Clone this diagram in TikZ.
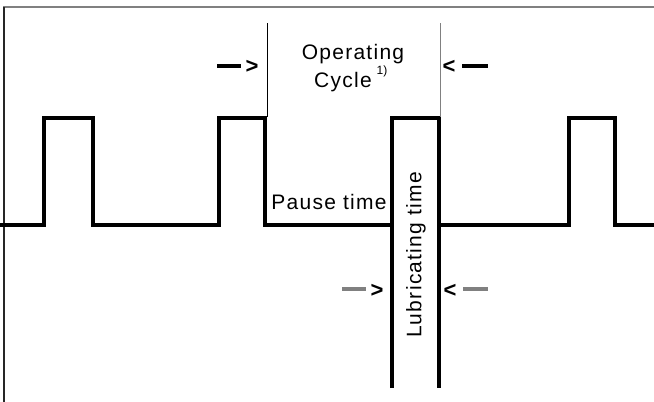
\documentclass[tikz,border=0pt]{standalone}
\usepackage{fontspec}
\setmainfont{Liberation Sans}[LetterSpace=6]
\newfontfamily\supfont{Liberation Sans}
\begin{document}
\begin{tikzpicture}[x=1pt,y=-1pt]
\tikzset{
  wave/.style={line width=3.5pt, line join=miter},
  thinline/.style={line width=1pt},
  dashmark/.style={line width=3.5pt},
  lbl/.style={font=\fontsize{21}{23}\selectfont, inner sep=0pt},
  tick/.style={font=\fontsize{22}{24}\selectfont\bfseries, inner sep=0pt}
}
\useasboundingbox (0,0) rectangle (654,402);
% frame
\draw[gray, line width=1.2pt] (3,7) -- (654,7);
\draw[black!85, line width=1.2pt] (4,7) -- (4,402);
% waveform
\draw[wave] (0,225) -- (44,225) -- (44,118) -- (93,118) -- (93,225) -- (219,225) -- (219,118) -- (265,118) -- (265,225) -- (392,225);
\draw[wave] (392,388) -- (392,118) -- (439,118) -- (439,388);
\draw[wave] (439,225) -- (569,225) -- (569,118) -- (615,118) -- (615,225) -- (654,225);
% operating cycle markers
\coordinate (ocLtop) at (267,23);
\coordinate (ocLbot) at (267,117);
\coordinate (ocRtop) at (440,23);
\coordinate (ocRbot) at (440,117);
\draw[thinline] (ocLtop) -- (ocLbot);
\draw[thinline, gray] (ocRtop) -- (ocRbot);
\coordinate (d1a) at (217,66); \coordinate (d1b) at (241,66);
\coordinate (d2a) at (462,66); \coordinate (d2b) at (488,66);
\draw[dashmark] (d1a) -- (d1b);
\draw[dashmark] (d2a) -- (d2b);
\node[tick] (g1) at (252,67) {>};
\node[tick] (l1) at (449,67) {<};
\node[lbl] (op) at (353,54) {Operating};
\node[lbl] (cy) at (343,82) {Cycle};
\node[inner sep=0pt, font=\supfont\fontsize{12}{13}\selectfont] (sup) at (382,71) {1)};
% pause time
\node[lbl] (pt) at (329,202) {Pause time};
% lubricating time
\node[lbl, rotate=90] (lt) at (416,255) {Lubricating time};
\coordinate (d3a) at (342,289); \coordinate (d3b) at (366,289);
\coordinate (d4a) at (463,289); \coordinate (d4b) at (488,289);
\draw[dashmark, gray] (d3a) -- (d3b);
\draw[dashmark, gray] (d4a) -- (d4b);
\node[tick] (g2) at (377,291) {>};
\node[tick] (l2) at (450,291) {<};
\end{tikzpicture}
\end{document}
